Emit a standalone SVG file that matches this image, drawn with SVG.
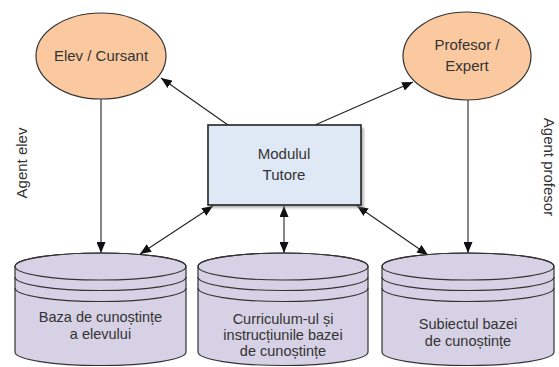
<svg xmlns="http://www.w3.org/2000/svg" width="559" height="367" viewBox="0 0 559 367">
  <style>
    .lbl { font-family: "Liberation Sans", Arial, sans-serif; font-size: 15px; fill: #333; text-anchor: middle; }
    .small { font-size: 14.5px; }
    .agent { fill: #fbc9a0; stroke: #333; stroke-width: 1.2; }
    .db { fill: #d6d1e4; stroke: #333; stroke-width: 1.2; }
    .band { fill: none; stroke: #333; stroke-width: 1.2; }
    .box { fill: #dfe8f5; stroke: #222; stroke-width: 1.6; }
    .edge { fill: none; stroke: #222; stroke-width: 1.1; }
  </style>
  <defs>
    <marker id="arrow" viewBox="0 0 11 9" refX="11" refY="4.5" markerWidth="11" markerHeight="9" markerUnits="userSpaceOnUse" orient="auto-start-reverse">
      <path d="M0 0 L11 4.5 L0 9 Z" fill="#111"/>
    </marker>
    <filter id="soft" x="-10%" y="-10%" width="130%" height="130%">
      <feGaussianBlur stdDeviation="1.2"/>
    </filter>
  </defs>

  <rect width="559" height="367" fill="#fff"/>

  <!-- side labels -->
  <text class="lbl" transform="translate(27 163) rotate(-90)">Agent elev</text>
  <text class="lbl" transform="translate(544 167) rotate(90)">Agent profesor</text>

  <!-- connectors -->
  <g id="connectors">
    <line class="edge" x1="228" y1="125" x2="161" y2="78" marker-end="url(#arrow)"/>
    <line class="edge" x1="315" y1="125" x2="413" y2="82" marker-end="url(#arrow)"/>
    <line class="edge" x1="101" y1="99" x2="101" y2="253" marker-end="url(#arrow)"/>
    <line class="edge" x1="468" y1="100" x2="468" y2="253" marker-end="url(#arrow)"/>
    <line class="edge" x1="213" y1="206" x2="140" y2="254" marker-start="url(#arrow)" marker-end="url(#arrow)"/>
    <line class="edge" x1="284" y1="206" x2="284" y2="253" marker-start="url(#arrow)" marker-end="url(#arrow)"/>
    <line class="edge" x1="357" y1="206" x2="428" y2="255" marker-start="url(#arrow)" marker-end="url(#arrow)"/>
  </g>

  <!-- agents -->
  <g id="elev">
    <ellipse class="agent" cx="101" cy="56" rx="65" ry="43"/>
    <text class="lbl" x="101" y="61">Elev / Cursant</text>
  </g>
  <g id="profesor">
    <ellipse class="agent" cx="467" cy="56" rx="64" ry="44"/>
    <text class="lbl" x="467" y="50">Profesor /</text>
    <text class="lbl" x="467" y="71">Expert</text>
  </g>

  <!-- tutor module -->
  <g id="tutore">
    <rect x="211" y="128" width="153" height="80" fill="#888" opacity="0.6" filter="url(#soft)"/>
    <rect class="box" x="208" y="125" width="153" height="80"/>
    <text class="lbl" x="284" y="159">Modulul</text>
    <text class="lbl" x="284" y="180">Tutore</text>
  </g>

  <!-- knowledge bases -->
  <g id="baza-elev">
    <path class="db" d="M15 266.5 A85.5 13.5 0 0 1 186 266.5 L186 352 A85.5 13.5 0 0 1 15 352 Z"/>
    <ellipse class="band" cx="100.5" cy="266.5" rx="85.5" ry="13.5"/>
    <path class="band" d="M15 277 A85.5 13.5 0 0 0 186 277 M15 288 A85.5 13.5 0 0 0 186 288"/>
    <text class="lbl small" x="100.5" y="322">Baza de cunoștințe</text>
    <text class="lbl small" x="100.5" y="339">a elevului</text>
  </g>
  <g id="baza-curriculum">
    <path class="db" d="M198 266.5 A85 13.5 0 0 1 368 266.5 L368 352 A85 13.5 0 0 1 198 352 Z"/>
    <ellipse class="band" cx="283" cy="266.5" rx="85" ry="13.5"/>
    <path class="band" d="M198 277 A85 13.5 0 0 0 368 277 M198 288 A85 13.5 0 0 0 368 288"/>
    <text class="lbl small" x="283" y="324">Curriculum-ul și</text>
    <text class="lbl small" x="283" y="340">instrucțiunile bazei</text>
    <text class="lbl small" x="283" y="356">de cunoștințe</text>
  </g>
  <g id="baza-subiect">
    <path class="db" d="M382 266.5 A86 13.5 0 0 1 554 266.5 L554 352 A86 13.5 0 0 1 382 352 Z"/>
    <ellipse class="band" cx="468" cy="266.5" rx="86" ry="13.5"/>
    <path class="band" d="M382 277 A86 13.5 0 0 0 554 277 M382 288 A86 13.5 0 0 0 554 288"/>
    <text class="lbl small" x="468" y="329">Subiectul bazei</text>
    <text class="lbl small" x="468" y="346">de cunoștințe</text>
  </g>
</svg>
